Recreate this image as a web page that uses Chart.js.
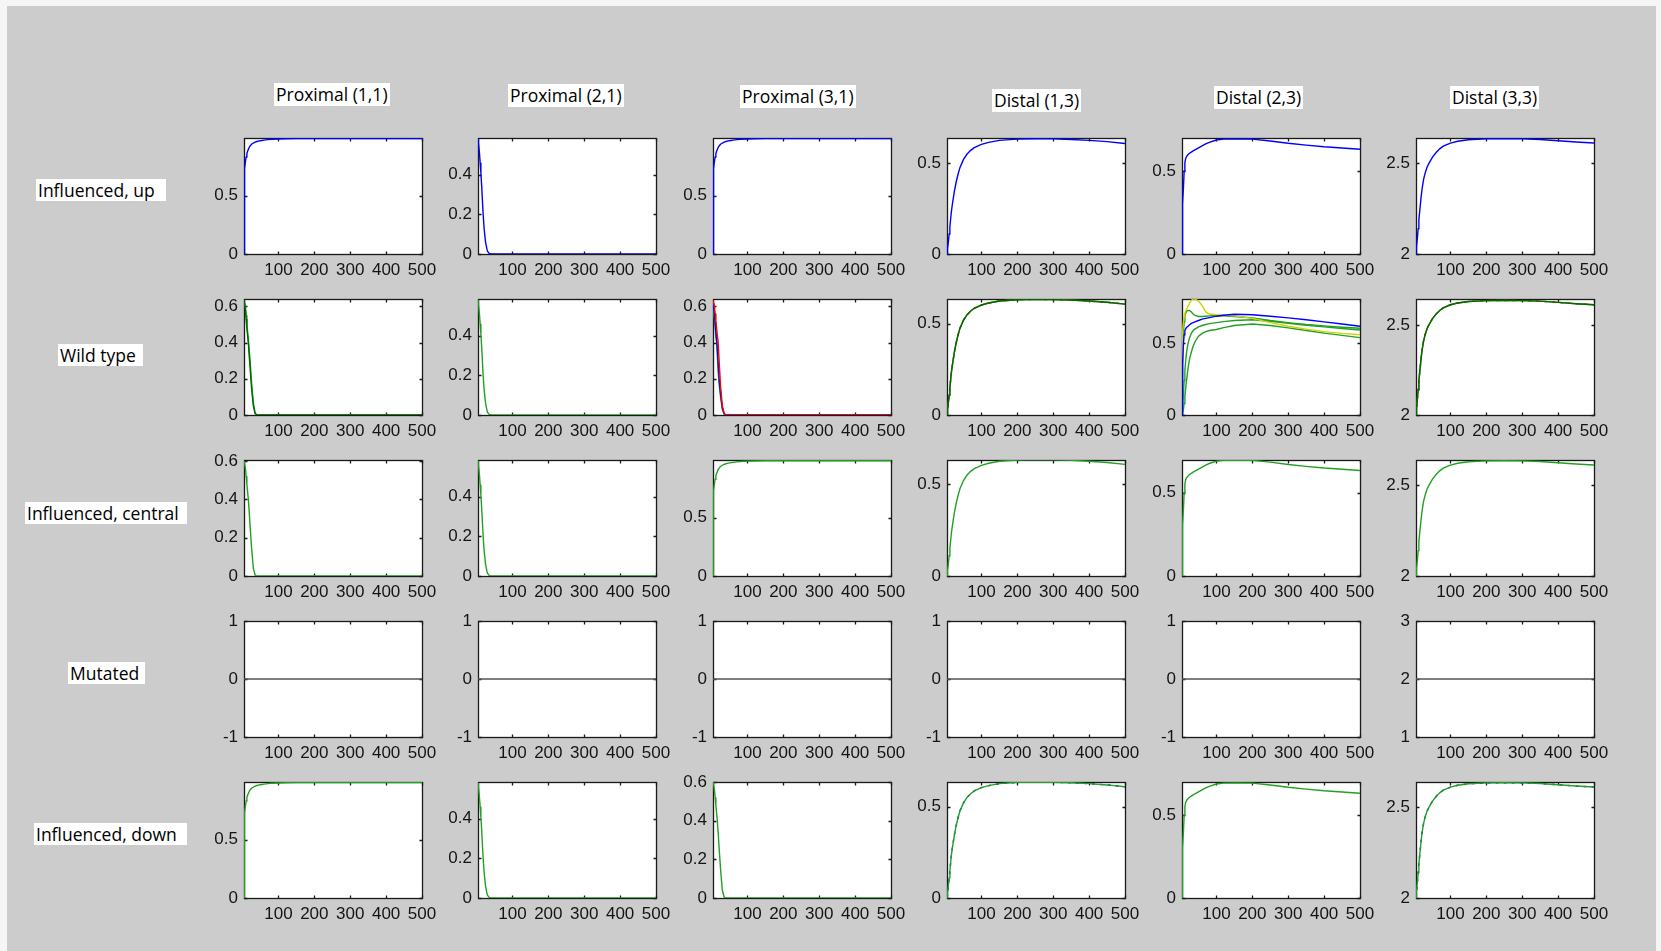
<!DOCTYPE html>
<html><head><meta charset="utf-8">
<script src="https://cdn.jsdelivr.net/npm/chart.js@4.4.1/dist/chart.umd.min.js"></script>
<style>
html,body{margin:0;padding:0;background:#f5f5f5;width:1661px;height:951px;overflow:hidden;position:relative;}
#bg{position:absolute;left:7px;top:6px;width:1649px;height:945px;background:#cccccc;}
.lbl{position:absolute;background:#fff;font-family:'Open Sans',sans-serif;font-size:17.5px;color:#000;white-space:pre;box-sizing:border-box;}
.ttl{height:23px;line-height:23px;padding:0 2px;}
.rlb{height:22px;line-height:22px;padding:0 0 0 2px;}
canvas.sp{position:absolute;}
</style></head><body>
<div id="bg"></div>
<script>
// ---------- DATA ----------
const COL_TITLES = ['Proximal (1,1)','Proximal (2,1)','Proximal (3,1)','Distal (1,3)','Distal (2,3)','Distal (3,3)'];
const ROW_TITLES = ['Influenced, up','Wild type','Influenced, central','Mutated','Influenced, down'];

const X_TICKS = [100,200,300,400,500];
const Y_TICKS_05 = [0,0.5];
const Y_TICKS_024 = [0,0.2,0.4];
const Y_TICKS_0246 = [0,0.2,0.4,0.6];
const Y_TICKS_225 = [2,2.5];
const Y_TICKS_MUT = [-1,0,1];
const Y_TICKS_MUT3 = [1,2,3];

const T = [4,5,6,8,10,12,14,16,18,21,25,30,35,40,50,60,70,80,100,120,150,200,250,300,350,400,450,500];

const riseNear1 = [0,0.69,0.73,0.79,0.83,0.86,0.88,0.895,0.91,0.925,0.94,0.95,0.958,0.963,0.97,0.975,0.979,0.982,0.985,0.987,0.988,0.989,0.989,0.989,0.989,0.989,0.989,0.989];
const decay58   = [0.58,0.575,0.56,0.51,0.46,0.41,0.35,0.28,0.21,0.13,0.06,0.015,0.003,0,0,0,0,0,0,0,0,0,0,0,0,0,0,0];
const decay63   = [0.63,0.63,0.63,0.6,0.55,0.5,0.46,0.42,0.37,0.3,0.18,0.07,0.01,0,0,0,0,0,0,0,0,0,0,0,0,0,0,0];
const decay63b  = [0.63,0.63,0.62,0.58,0.53,0.48,0.44,0.4,0.34,0.26,0.15,0.05,0.008,0,0,0,0,0,0,0,0,0,0,0,0,0,0,0];
const decay60   = [0.6,0.6,0.59,0.56,0.52,0.48,0.44,0.4,0.35,0.26,0.15,0.04,0.005,0,0,0,0,0,0,0,0,0,0,0,0,0,0,0];
const decayRed  = [0.63,0.63,0.62,0.6,0.56,0.52,0.48,0.44,0.41,0.3,0.16,0.05,0.01,0,0,0,0,0,0,0,0,0,0,0,0,0,0,0];
const decayBlue = [0.62,0.61,0.6,0.56,0.51,0.46,0.42,0.37,0.3,0.2,0.12,0.04,0.007,0,0,0,0,0,0,0,0,0,0,0,0,0,0,0];
const decayGrn  = [0.62,0.6,0.58,0.53,0.48,0.43,0.4,0.33,0.25,0.17,0.1,0.03,0.005,0,0,0,0,0,0,0,0,0,0,0,0,0,0,0];
const riseB     = [0,0.01,0.03,0.07,0.11,0.15,0.19,0.23,0.26,0.3,0.35,0.4,0.44,0.475,0.52,0.55,0.57,0.585,0.603,0.614,0.625,0.632,0.634,0.633,0.63,0.625,0.618,0.608];
const riseC     = [0,0.2,0.3,0.4,0.5,0.55,0.575,0.585,0.592,0.6,0.608,0.615,0.622,0.628,0.64,0.652,0.664,0.674,0.688,0.693,0.695,0.693,0.682,0.668,0.657,0.647,0.64,0.632];
const riseD     = [2.0,2.02,2.04,2.09,2.14,2.19,2.23,2.27,2.31,2.36,2.41,2.45,2.48,2.5,2.535,2.56,2.58,2.595,2.612,2.622,2.63,2.635,2.636,2.635,2.632,2.625,2.618,2.612];
// Wild type, Distal (2,3)
const wtD23Blue   = [0,0.15,0.35,0.5,0.56,0.59,0.6,0.61,0.615,0.62,0.63,0.64,0.645,0.65,0.66,0.67,0.675,0.68,0.69,0.697,0.703,0.7,0.69,0.678,0.665,0.65,0.635,0.62];
const wtD23Yellow = [0.38,0.5,0.58,0.65,0.69,0.71,0.725,0.735,0.745,0.76,0.78,0.8,0.81,0.81,0.795,0.765,0.72,0.705,0.7,0.698,0.692,0.675,0.645,0.62,0.6,0.582,0.57,0.56];
const wtD23G1     = [0.05,0.3,0.45,0.58,0.65,0.69,0.71,0.72,0.727,0.73,0.73,0.72,0.705,0.695,0.688,0.688,0.69,0.692,0.695,0.693,0.688,0.678,0.66,0.645,0.632,0.622,0.613,0.606];
const wtD23G2     = [0,0.02,0.06,0.15,0.24,0.31,0.37,0.42,0.46,0.5,0.54,0.57,0.59,0.6,0.615,0.625,0.632,0.638,0.645,0.652,0.66,0.665,0.655,0.64,0.627,0.615,0.604,0.594];
const wtD23G3     = [0,0.005,0.015,0.04,0.08,0.13,0.18,0.23,0.27,0.33,0.39,0.44,0.48,0.51,0.55,0.57,0.582,0.59,0.597,0.61,0.625,0.635,0.625,0.608,0.59,0.572,0.556,0.54];
// Mutated
const T_MUT = [4,500];
const mutZero = [0,0];
const mutTwo = [2,2];

// ---------- STYLE ----------
const C = {blue:'#0000ff', green:'#22a022', dgreen:'#006a00', red:'#ff0000', yellow:'#d2d200', grey:'#555555'};

function S(d, col, dash, x){ return {d, col, dash: dash||[], x: x||T}; }
const SPECS = [
 [ {min:0,max:0.993,yt:Y_TICKS_05,s:[S(riseNear1,'blue')]},
   {min:0,max:0.585,yt:Y_TICKS_024,s:[S(decay58,'blue')]},
   {min:0,max:0.993,yt:Y_TICKS_05,s:[S(riseNear1,'blue')]},
   {min:0,max:0.638,yt:Y_TICKS_05,s:[S(riseB,'blue')]},
   {min:0,max:0.70,yt:Y_TICKS_05,s:[S(riseC,'blue')]},
   {min:2,max:2.64,yt:Y_TICKS_225,s:[S(riseD,'blue')]} ],
 [ {min:0,max:0.64,yt:Y_TICKS_0246,s:[S(decay63b,'dgreen'),S(decay63,'green')]},
   {min:0,max:0.585,yt:Y_TICKS_024,s:[S(decay58,'green')]},
   {min:0,max:0.64,yt:Y_TICKS_0246,s:[S(decayRed,'red'),S(decayBlue,'blue'),S(decayGrn,'green')]},
   {min:0,max:0.636,yt:Y_TICKS_05,s:[S(riseB,'dgreen'),S(riseB,'red',[3,5]),S(riseB,'green')]},
   {min:0,max:0.81,yt:Y_TICKS_05,s:[S(wtD23Blue,'blue'),S(wtD23Yellow,'yellow'),S(wtD23G1,'green'),S(wtD23G2,'green'),S(wtD23G3,'green')]},
   {min:2,max:2.644,yt:Y_TICKS_225,s:[S(riseD,'dgreen'),S(riseD,'red',[3,5]),S(riseD,'green')]} ],
 [ {min:0,max:0.605,yt:Y_TICKS_0246,s:[S(decay60,'green')]},
   {min:0,max:0.585,yt:Y_TICKS_024,s:[S(decay58,'green')]},
   {min:0,max:0.995,yt:Y_TICKS_05,s:[S(riseNear1,'green')]},
   {min:0,max:0.632,yt:Y_TICKS_05,s:[S(riseB,'green')]},
   {min:0,max:0.695,yt:Y_TICKS_05,s:[S(riseC,'green')]},
   {min:2,max:2.64,yt:Y_TICKS_225,s:[S(riseD,'green')]} ],
 [ {min:-1,max:1,yt:Y_TICKS_MUT,s:[S(mutZero,'grey',null,T_MUT)]},
   {min:-1,max:1,yt:Y_TICKS_MUT,s:[S(mutZero,'grey',null,T_MUT)]},
   {min:-1,max:1,yt:Y_TICKS_MUT,s:[S(mutZero,'grey',null,T_MUT)]},
   {min:-1,max:1,yt:Y_TICKS_MUT,s:[S(mutZero,'grey',null,T_MUT)]},
   {min:-1,max:1,yt:Y_TICKS_MUT,s:[S(mutZero,'grey',null,T_MUT)]},
   {min:1,max:3,yt:Y_TICKS_MUT3,s:[S(mutTwo,'grey',null,T_MUT)]} ],
 [ {min:0,max:0.993,yt:Y_TICKS_05,s:[S(riseNear1,'green')]},
   {min:0,max:0.585,yt:Y_TICKS_024,s:[S(decay58,'green')]},
   {min:0,max:0.6,yt:Y_TICKS_0246,s:[S(decay60,'green')]},
   {min:0,max:0.634,yt:Y_TICKS_05,s:[S(riseB,'green'),S(riseB,'blue',[3,5])]},
   {min:0,max:0.70,yt:Y_TICKS_05,s:[S(riseC,'green')]},
   {min:2,max:2.64,yt:Y_TICKS_225,s:[S(riseD,'green'),S(riseD,'blue',[3,5])]} ]
];

// ---------- LAYOUT ----------
const BOX_LEFT = [244,478,713,947,1182,1416];
const BOX_TOP = [138,299,460,621,782];
const BOX_W = 178, BOX_H = 116;
const PAD_L = 45, PAD_T = 18, PAD_R = 22, PAD_B = 32;
const TITLE_POS = [[274,83],[508,84],[740,85],[992,89],[1214,86],[1450,86]];
const ROWLBL_POS = [[36,179,130],[58,344,85],[25,502,162],[68,662,77],[34,823,153]];

COL_TITLES.forEach((t,i)=>{
  const d=document.createElement('div'); d.className='lbl ttl'; d.textContent=t;
  d.style.left=TITLE_POS[i][0]+'px'; d.style.top=TITLE_POS[i][1]+'px';
  document.body.appendChild(d);
});
ROW_TITLES.forEach((t,i)=>{
  const d=document.createElement('div'); d.className='lbl rlb'; d.textContent=t;
  d.style.left=ROWLBL_POS[i][0]+'px'; d.style.top=ROWLBL_POS[i][1]+'px'; d.style.width=ROWLBL_POS[i][2]+'px';
  document.body.appendChild(d);
});

const boxPlugin = {
  id:'mbox',
  beforeDatasetsDraw(chart){
    const ctx=chart.ctx, a=chart.chartArea, xs=chart.scales.x, ys=chart.scales.y;
    ctx.save();
    ctx.fillStyle='#ffffff';
    ctx.fillRect(a.left,a.top,a.right-a.left,a.bottom-a.top);
    ctx.strokeStyle='#1a1a1a'; ctx.lineWidth=1.3;
    const L=Math.round(a.left)+0.5, R=Math.round(a.right)+0.5, Tp=Math.round(a.top)+0.5, B=Math.round(a.bottom)+0.5;
    ctx.strokeRect(L,Tp,R-L,B-Tp);
    const tl=3;
    ctx.beginPath();
    xs.ticks.forEach(t=>{const p=Math.round(xs.getPixelForValue(t.value))+0.5; ctx.moveTo(p,B); ctx.lineTo(p,B-tl); ctx.moveTo(p,Tp); ctx.lineTo(p,Tp+tl);});
    ys.ticks.forEach(t=>{const p=Math.round(ys.getPixelForValue(t.value))+0.5; ctx.moveTo(L,p); ctx.lineTo(L+tl,p); ctx.moveTo(R,p); ctx.lineTo(R-tl,p);});
    ctx.stroke();
    ctx.restore();
  }
};

const tickFont = {family:"'Liberation Sans', Arial, sans-serif", size:17};
SPECS.forEach((row,r)=>row.forEach((sp,c)=>{
  const cv=document.createElement('canvas'); cv.className='sp';
  const W=BOX_W+PAD_L+PAD_R, H=BOX_H+PAD_T+PAD_B;
  cv.width=W; cv.height=H; cv.style.width=W+'px'; cv.style.height=H+'px';
  cv.style.left=(BOX_LEFT[c]-PAD_L)+'px'; cv.style.top=(BOX_TOP[r]-PAD_T)+'px';
  document.body.appendChild(cv);
  const yt=sp.yt;
  new Chart(cv,{
    type:'line',
    data:{datasets:sp.s.map(s=>({
      data:s.x.map((t,i)=>({x:t,y:s.d[i]})),
      borderColor:C[s.col], borderWidth:1.4, borderDash:s.dash,
      pointRadius:0, tension:0, fill:false
    }))},
    options:{
      responsive:false, animation:false, devicePixelRatio:1,
      layout:{padding:{left:0,right:PAD_R,top:PAD_T,bottom:0}},
      plugins:{legend:{display:false},tooltip:{enabled:false}},
      events:[],
      scales:{
        x:{type:'linear',min:4,max:500,
           afterBuildTicks:s=>{s.ticks=X_TICKS.map(v=>({value:v}));},
           afterFit:s=>{s.height=PAD_B;},
           grid:{display:false,drawTicks:false}, border:{display:false},
           ticks:{color:'#141414',font:tickFont,padding:6,maxRotation:0,autoSkip:false,callback:v=>String(v)}},
        y:{type:'linear',min:sp.min,max:sp.max,
           afterBuildTicks:s=>{s.ticks=yt.map(v=>({value:v}));},
           afterFit:s=>{s.width=PAD_L;},
           grid:{display:false,drawTicks:false}, border:{display:false},
           ticks:{color:'#141414',font:tickFont,padding:6,autoSkip:false,callback:v=>String(v)}}
      }
    },
    plugins:[boxPlugin]
  });
}));
</script>
</body></html>
